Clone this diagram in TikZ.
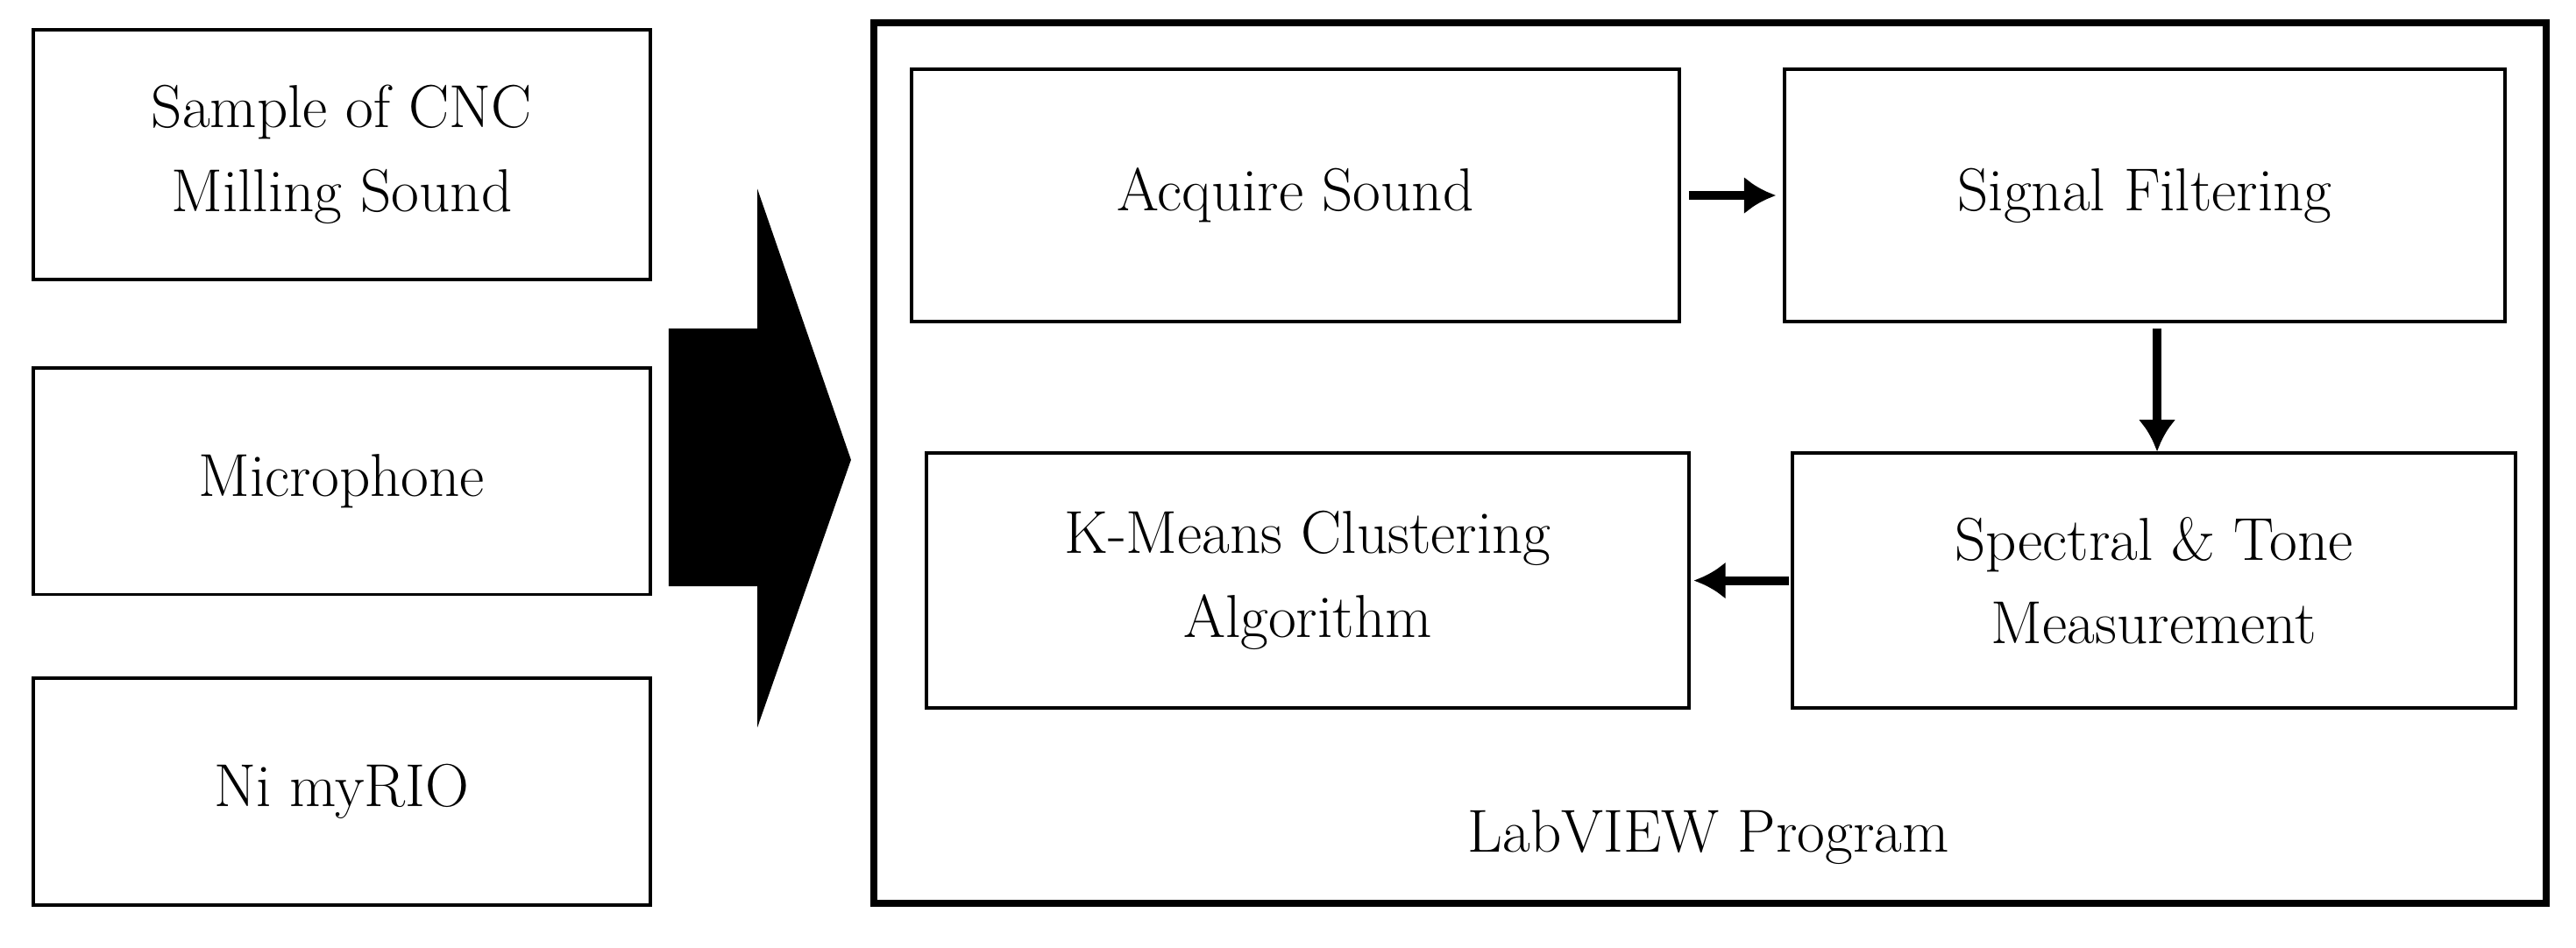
\documentclass[tikz,border=0pt]{standalone}
\usetikzlibrary{arrows.meta}
\begin{document}
\begin{tikzpicture}[x=0.02cm,y=-0.02cm,
 box/.style={draw,line width=1.2pt,align=center,font=\fontsize{21}{29}\selectfont,inner sep=0pt},
 arr/.style={line width=3pt,-{Latex[length=11pt,width=13pt]}}]
\useasboundingbox (0,0) rectangle (1568,577);
\node[box] (s) at (208,94) [minimum width=7.52cm,minimum height=3.04cm] {Sample of CNC\\Milling Sound};
\node[box] (m) at (208,293) [minimum width=7.52cm,minimum height=2.76cm] {Microphone};
\node[box] (n) at (208,482) [minimum width=7.52cm,minimum height=2.76cm] {Ni myRIO};
\fill (407,200) -- (461,200) -- (461,115) -- (518,280) -- (461,443) -- (461,357) -- (407,357) -- cycle;
\draw[line width=2.4pt] (532,14) rectangle (1550,550);
\node[box] (a) at (788.5,119) [minimum width=9.34cm,minimum height=3.08cm] {Acquire Sound};
\node[box] (f) at (1305.5,119) [minimum width=8.78cm,minimum height=3.08cm] {Signal Filtering};
\node[box] (k) at (796,353.5) [minimum width=9.28cm,minimum height=3.1cm] {K-Means Clustering\\Algorithm};
\node[box] (p) at (1311,353.5) [minimum width=8.8cm,minimum height=3.1cm] {Spectral \& Tone\\Measurement};
\node[font=\fontsize{21}{29}\selectfont] (l) at (1040,510) {LabVIEW Program};
\draw[arr] ([xshift=0.1cm]a.east) -- ([xshift=-0.08cm]f.east -| f.west);
\draw[arr] (1313,200) -- (p.north -| 1313,0);
\draw[arr] ([xshift=-0.02cm]p.west) -- ([xshift=0.04cm]k.east);
\end{tikzpicture}
\end{document}
